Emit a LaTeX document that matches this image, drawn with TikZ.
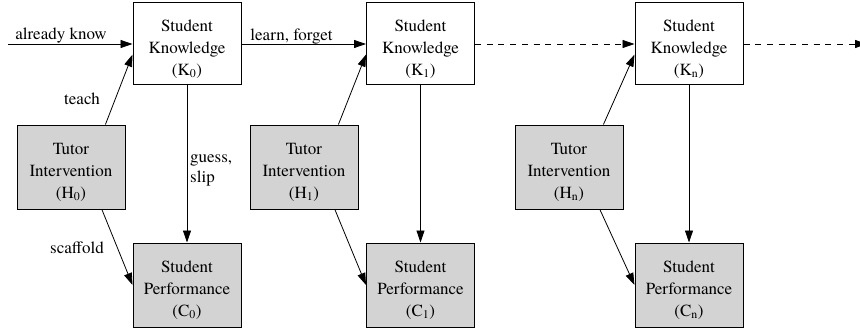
\documentclass[tikz,border=0pt]{standalone}
\usepackage{fontspec}
\setmainfont{TeX Gyre Termes}
\usetikzlibrary{arrows.meta}
\definecolor{boxgray}{RGB}{211,211,211}
\begin{document}
\begin{tikzpicture}[x=1pt,y=-1pt,
  every node/.style={font=\fontsize{17}{22}\selectfont},
  boxtext/.style={inner sep=0pt, align=center, yshift=-5pt},
  know/.style={draw, line width=1pt, minimum width=108pt, minimum height=82pt, inner sep=0pt,
    label={[boxtext]center:{#1}}},
  gbox/.style={know={#1}, fill=boxgray, minimum height=84pt},
  arr/.style={line width=0.8pt, -{Triangle[length=12pt,width=8pt]}},
  dasharr/.style={arr, dash pattern=on 6pt off 5.7pt},
  lbl/.style={inner sep=0pt}
]
\useasboundingbox (0,0) rectangle (860,329);
% knowledge nodes
\node[know={Student\\Knowledge\\(K\textsubscript{0})}] (K0) at (187,44) {};
\node[know={Student\\Knowledge\\(K\textsubscript{1})}] (K1) at (420.5,44) {};
\node[know={Student\\Knowledge\\(K\textsubscript{n})}] (Kn) at (689,44) {};
% tutor nodes
\node[gbox={Tutor\\Intervention\\(H\textsubscript{0})}] (H0) at (71,167) {};
\node[gbox={Tutor\\Intervention\\(H\textsubscript{1})}] (H1) at (304,167) {};
\node[gbox={Tutor\\Intervention\\(H\textsubscript{n})}] (Hn) at (569,167) {};
% performance nodes
\node[gbox={Student\\Performance\\(C\textsubscript{0})}] (C0) at (187,285) {};
\node[gbox={Student\\Performance\\(C\textsubscript{1})}] (C1) at (420.5,285) {};
\node[gbox={Student\\Performance\\(C\textsubscript{n})}] (Cn) at (689,285) {};
% free ends
\coordinate (start) at (8,44);
\coordinate (stop) at (867,44);
% edges
\draw[arr] (start) -- (K0.west);
\draw[arr] (K0.east) -- (K1.west);
\draw[dasharr] (K1.east) -- (Kn.west);
\draw[dasharr] (Kn.east) -- (stop);
\foreach \i in {0,1,n}{
  \draw[arr] (H\i.51) -- (K\i.191);
  \draw[arr] (H\i.-54) -- (C\i.west);
  \draw[arr] (K\i.south) -- (C\i.north);
}
% labels
\node[lbl] (l1) at (61,36) {already know};
\node[lbl] (l2) at (291.5,37) {learn, forget};
\node[lbl] (l3) at (82,99) {teach};
\node[lbl] (l4) at (77,248) {scaffold};
\node[lbl, align=left, anchor=west, font=\fontsize{17}{20}\selectfont] (l5) at (190,170) {guess,\\slip};
\end{tikzpicture}
\end{document}
